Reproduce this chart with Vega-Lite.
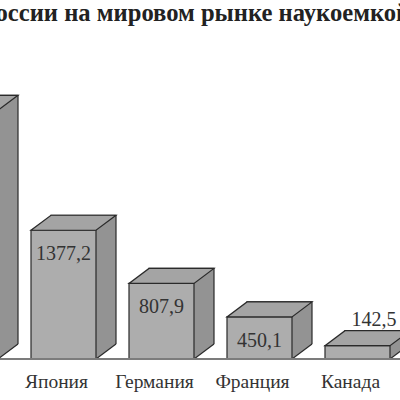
{
  "$schema": "https://vega.github.io/schema/vega-lite/v6.json",
  "width": 400,
  "height": 319,
  "autosize": {"type": "none"},
  "padding": {"left": 0, "top": 40, "right": 0, "bottom": 41},
  "background": "white",
  "title": {
    "text": "Доля России на мировом рынке наукоемкой продукции",
    "anchor": "start",
    "frame": "group",
    "dx": -81,
    "dy": 19,
    "offset": 13.5,
    "baseline": "alphabetic",
    "font": "Liberation Serif",
    "fontSize": 24.6,
    "fontWeight": "bold",
    "color": "#222222"
  },
  "data": {
    "values": [
      {"country": "США", "value": 2660, "label": ""},
      {"country": "Япония", "value": 1377.2, "label": "1377,2"},
      {"country": "Германия", "value": 807.9, "label": "807,9"},
      {"country": "Франция", "value": 450.1, "label": "450,1"},
      {"country": "Канада", "value": 142.5, "label": "142,5"}
    ]
  },
  "config": {
    "view": {"stroke": null},
    "axisX": {
      "domain": false,
      "ticks": false,
      "grid": false,
      "labelFont": "Liberation Serif",
      "labelFontSize": 19.5,
      "labelColor": "#333333",
      "labelOffset": -7,
      "labelPadding": 28,
      "labelBaseline": "alphabetic",
      "labelAngle": 0
    }
  },
  "layer": [
    {
      "mark": {"type": "bar", "xOffset": 20, "yOffset": -15, "y2Offset": 0, "fill": "#939393", "stroke": "#2a2a2a", "strokeWidth": 1.2},
      "encoding": {
        "x": {"field": "country", "type": "nominal", "sort": null, "title": null, "scale": {"range": [-67, 390], "paddingInner": 0.3367, "paddingOuter": 0}},
        "y": {"field": "value", "type": "quantitative", "axis": null, "scale": {"domain": [0, 3412], "nice": false}},
        "y2": {"datum": 0}
      }
    },
    {
      "mark": {"type": "point", "shape": "M32.5,0 L52.5,-15 L54.5,-15 L54.5,2 L32.5,2 Z", "size": 4, "filled": true, "fill": "white", "strokeWidth": 0, "opacity": 1},
      "encoding": {
        "x": {"field": "country", "type": "nominal", "sort": null, "title": null},
        "y": {"datum": 0, "axis": null}
      }
    },
    {
      "mark": {"type": "point", "shape": "M32.5,0 L52.5,-15", "size": 4, "filled": false, "fill": null, "stroke": "#2a2a2a", "strokeWidth": 1.2, "opacity": 1},
      "encoding": {
        "x": {"field": "country", "type": "nominal", "sort": null, "title": null},
        "y": {"datum": 0, "axis": null}
      }
    },
    {
      "mark": {"type": "bar", "fill": "#adadad", "stroke": "#2a2a2a", "strokeWidth": 1.2},
      "encoding": {
        "x": {"field": "country", "type": "nominal", "sort": null, "title": null},
        "y": {"field": "value", "type": "quantitative", "axis": null},
        "y2": {"datum": 0}
      }
    },
    {
      "mark": {"type": "point", "shape": "M-32.5,0 L32.5,0 L52.5,-15 L-12.5,-15 Z", "size": 4, "filled": true, "fill": "#a4a4a4", "stroke": "#2a2a2a", "strokeWidth": 1.2, "opacity": 1},
      "encoding": {
        "x": {"field": "country", "type": "nominal", "sort": null, "title": null},
        "y": {"field": "value", "type": "quantitative", "axis": null}
      }
    },
    {
      "mark": {"type": "rule", "stroke": "#7d7d7d", "strokeWidth": 1.5},
      "encoding": {
        "y": {"datum": 0, "axis": null}
      }
    },
    {
      "transform": [{"filter": "datum.value >= 300"}],
      "mark": {"type": "text", "dy": 30, "baseline": "alphabetic", "font": "Liberation Serif", "fontSize": 20, "fill": "#333333"},
      "encoding": {
        "x": {"field": "country", "type": "nominal", "sort": null, "title": null},
        "y": {"field": "value", "type": "quantitative", "axis": null},
        "text": {"field": "label"}
      }
    },
    {
      "transform": [{"filter": "datum.value < 300"}],
      "mark": {"type": "text", "dy": -20, "dx": 16.5, "baseline": "alphabetic", "font": "Liberation Serif", "fontSize": 20, "fill": "#333333"},
      "encoding": {
        "x": {"field": "country", "type": "nominal", "sort": null, "title": null},
        "y": {"field": "value", "type": "quantitative", "axis": null},
        "text": {"field": "label"}
      }
    }
  ]
}
